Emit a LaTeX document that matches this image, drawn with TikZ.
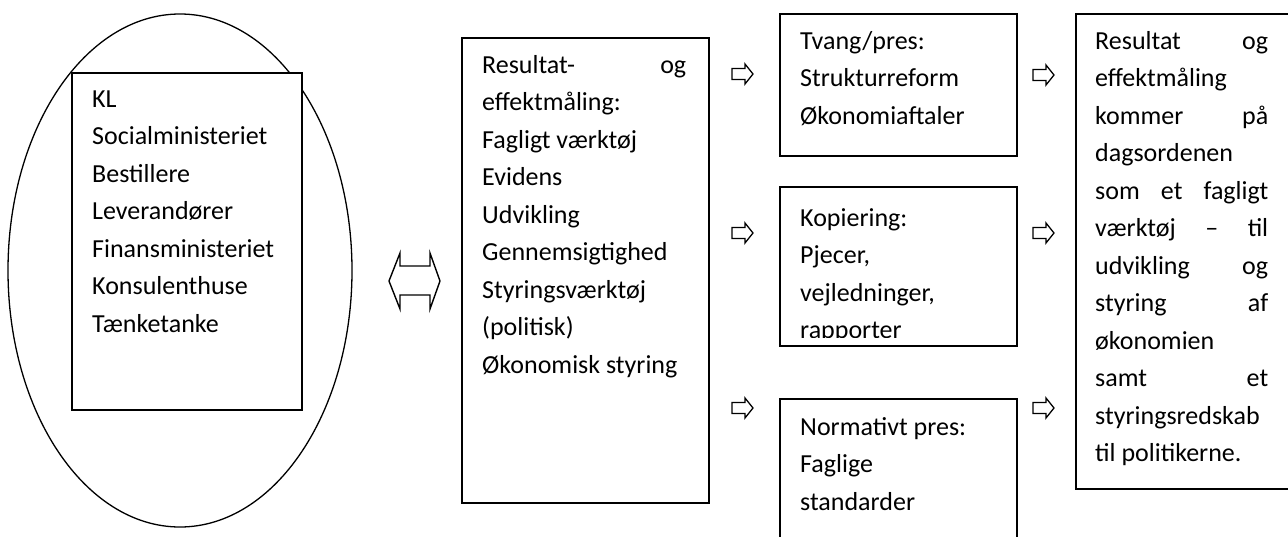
\documentclass[tikz,border=0pt]{standalone}
\usepackage{fontspec}
\setmainfont{Carlito}
\usetikzlibrary{shapes.geometric}

\newcommand{\lin}[2]{\makebox[#1][s]{#2}}

\tikzset{
  pics/pil/.style={code={\draw[line width=1.3pt, line join=miter] (0,-5.5) -- (13,-5.5) -- (13,-10) -- (21,0) -- (13,10) -- (13,5.5) -- (0,5.5) -- cycle;}}
}

\begin{document}
\begin{tikzpicture}[x=1pt, y=-1pt,
  box/.style={draw, fill=white, line width=1.6pt, inner sep=0pt, anchor=north west},
  txt/.style={anchor=north west, inner sep=0pt, align=left, font=\fontsize{26}{37.5}\selectfont}]
		\useasboundingbox (0,0) rectangle (1288,536);
		
		\node[ellipse, draw, line width=1.3pt, inner sep=0pt, minimum width=344, minimum height=513] (E) at (180,270.5){};
		\node[box, minimum width=230, minimum height=337] (A) at (71,72){};
		\node[txt] (tA) at (92,80.75){\strut KL\\ Socialministeriet\\ Bestillere\\ Leverandører\\ Finansministeriet\\ Konsulenthuse\\ Tænketanke};
		
		\draw[line width=1.4pt, line join=miter] (389,281) -- (400,253) -- (400,266) -- (430,266) -- (430,253) -- (440,281) -- (430,309) -- (430,295) -- (400,295) -- (400,309) -- cycle;
		
		\node[box, minimum width=247, minimum height=465] (M) at (461,37){};
		\node[txt] (tM) at (482,46.75){\strut\lin{204pt}{Resultat- og}\\ effektmåling:\\ Fagligt værktøj\\ Evidens\\ Udvikling\\ Gennemsigtighed\\ Styringsværktøj\\ (politisk)\\ Økonomisk styring};
		
		\pic at (732,74){pil};
		\pic at (732,233){pil};
		\pic at (732,408){pil};
		
		\node[box, minimum width=237, minimum height=142] (T) at (779,13){};
		\node[txt] (tT) at (800,22.75){\strut Tvang/pres:\\ Strukturreform\\ Økonomiaftaler};
		\node[box, minimum width=237, minimum height=159] (K) at (779,186){};
		\begin{scope}
		\clip (779,186) rectangle (1016,337);
		\node[txt] (tK) at (800,199.75){\strut Kopiering:\\ Pjecer,\\ vejledninger,\\ rapporter};
		\end{scope}
		\node[box, minimum width=237, minimum height=170] (N) at (779,398){};
		\node[txt] (tN) at (800,408.75){\strut Normativt pres:\\ Faglige\\ standarder};
		
		\pic at (1033,75){pil};
		\pic at (1033,233){pil};
		\pic at (1033,408){pil};
		
		\node[box, minimum width=215, minimum height=475] (R) at (1075,13){};
		\node[txt] (tR) at (1095,22.75){\strut\lin{173pt}{Resultat og}\\ effektmåling\\ \lin{173pt}{kommer på}\\ dagsordenen\\ \lin{173pt}{som et fagligt}\\ \lin{173pt}{værktøj – til}\\ \lin{173pt}{udvikling og}\\ \lin{173pt}{styring af}\\ økonomien\\ \lin{173pt}{samt et}\\ styringsredskab\\ til politikerne.};
\end{tikzpicture}
\end{document}
